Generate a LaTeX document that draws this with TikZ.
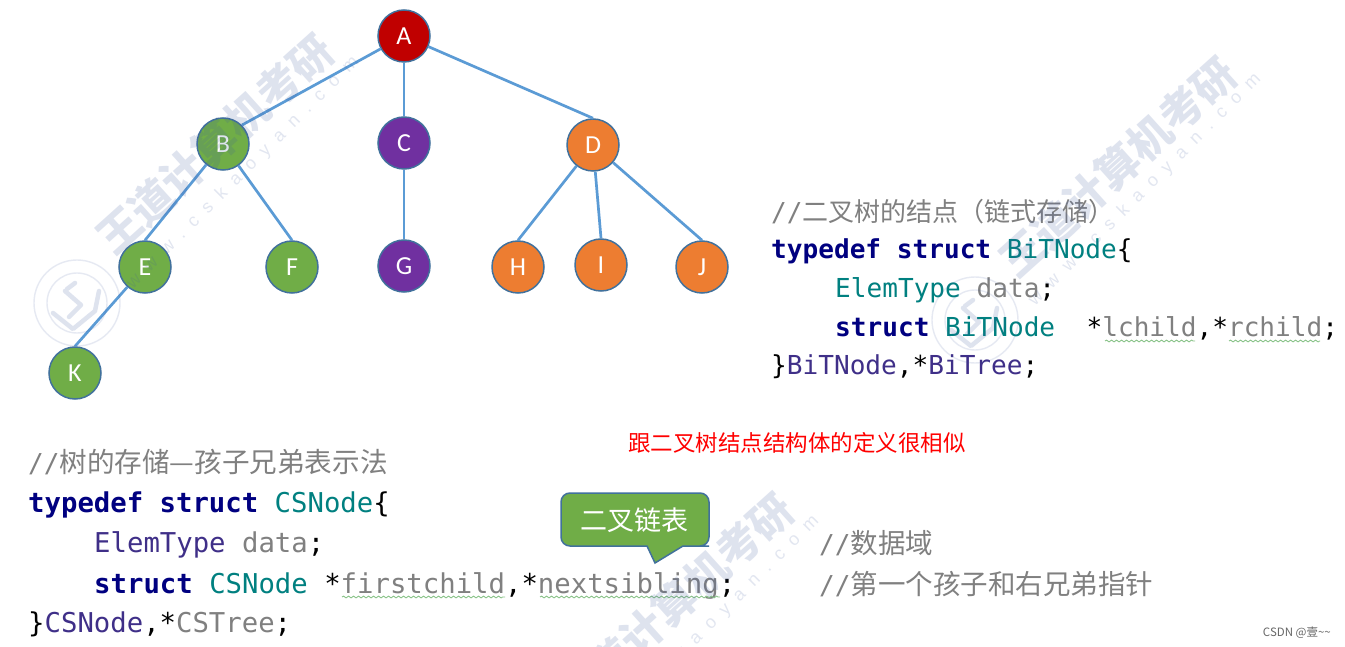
\documentclass[tikz,border=0pt]{standalone}
\usepackage{fontspec}
\setmainfont{Liberation Sans}
\newfontfamily\cjk{Noto Sans CJK SC}
\newfontfamily\code{DejaVu Sans Mono}
\newfontfamily\nodefont{Carlito}
\newfontfamily\sitefont[LetterSpace=60]{Liberation Sans}
\usetikzlibrary{decorations.pathmorphing}
\definecolor{edgeblue}{HTML}{5B9BD5}
\definecolor{bordblue}{HTML}{41719C}
\definecolor{gfill}{HTML}{70AD47}
\definecolor{pfill}{HTML}{7030A0}
\definecolor{ofill}{HTML}{ED7D31}
\definecolor{rfill}{HTML}{C00000}
\definecolor{kw}{HTML}{000080}
\definecolor{ty}{HTML}{008080}
\definecolor{vv}{HTML}{3F2F88}
\definecolor{gy}{HTML}{808080}
\definecolor{wm}{HTML}{3F5AA0}
\definecolor{wavec}{HTML}{8BC48A}
\tikzset{
 treenode/.style={circle,draw=bordblue,line width=1.5pt,minimum size=52pt,inner sep=0pt,text=white,font=\nodefont\fontsize{26pt}{26pt}\selectfont},
 gnode/.style={treenode,fill=gfill},
 pnode/.style={treenode,fill=pfill},
 onode/.style={treenode,fill=ofill},
 rnode/.style={treenode,fill=rfill},
 edge/.style={draw=edgeblue,line width=2.7pt},
 coderight/.style={anchor=west,inner sep=0pt,font=\code\fontsize{26.1pt}{26pt}\selectfont},
 codeleft/.style={anchor=west,inner sep=0pt,font=\code\fontsize{27.3pt}{27pt}\selectfont},
 cjkline/.style={anchor=west,inner sep=0pt,text=gy,font=\cjk\fontsize{#1}{#1}\selectfont},
 wmark/.style={rotate=42,text=wm,text opacity=.17,inner sep=0pt,font=\cjk\bfseries\fontsize{43pt}{43pt}\selectfont},
 wsite/.style={rotate=45,text=wm,text opacity=.15,inner sep=0pt,font=\sitefont\fontsize{18pt}{18pt}\selectfont},
 wring/.style={draw=wm,draw opacity=.13,line width=1.4pt},
 wlogo/.style={draw=wm,draw opacity=.17,line width=4.5pt,line join=round,line cap=round},
 wavy/.style={draw=wavec,line width=.9pt,decorate,decoration={snake,amplitude=.9pt,segment length=5pt}}
}
\newcommand{\kw}[1]{\textcolor{kw}{\bfseries #1}}
\newcommand{\ty}[1]{\textcolor{ty}{#1}}
\newcommand{\vv}[1]{\textcolor{vv}{#1}}
\newcommand{\gy}[1]{\textcolor{gy}{#1}}
\newcommand{\slashes}{{\code\fontsize{26pt}{26pt}\selectfont //}}
\begin{document}
\begin{tikzpicture}[x=1pt,y=-1pt]
\useasboundingbox (0,0) rectangle (1345,647);
\fill[white] (0,0) rectangle (1345,647);
% tree
\node[rnode] (A) at (404,36) {A};
\node[gnode] (B) at (223,144) {B};
\node[pnode] (C) at (404,143) {C};
\node[onode] (D) at (593,145) {D};
\node[gnode] (E) at (145,267) {E};
\node[gnode] (F) at (292,267) {F};
\node[pnode] (G) at (404,266) {G};
\node[onode] (H) at (518,267) {H};
\node[onode] (I) at (601,265) {I};
\node[onode] (J) at (702,267) {J};
\node[gnode] (K) at (75,373) {K};
\draw[edge] (A)--(B.45); \draw[edge] (A)--(C); \draw[edge] (A)--(D.north);
\draw[edge] (B)--(E.north); \draw[edge] (B)--(F.north); \draw[edge] (C)--(G);
\draw[edge] (D)--(H.north); \draw[edge] (D)--(I.north); \draw[edge] (D)--(J.north);
\draw[edge] (E)--(K.north);
% right code
\node[cjkline=26pt] (r1) at (771,212) {\slashes 二叉树的结点（链式存储）};
\node[coderight] (r2) at (771,251.5) {\kw{typedef struct} \ty{BiTNode}\{};
\node[coderight] (r3) at (835,290) {\ty{ElemType} \gy{data};};
\node[coderight] (r4) at (835,328.5) {\kw{struct} \ty{BiTNode}\ \ *\gy{lchild},*\gy{rchild};};
\node[coderight] (r5) at (771,366.5) {\}\vv{BiTNode},*\vv{BiTree};};
\coordinate (u1a) at (1105,341); \coordinate (u1b) at (1195,341);
\coordinate (u2a) at (1229,341); \coordinate (u2b) at (1320,341);
\draw[wavy] (u1a)--(u1b); \draw[wavy] (u2a)--(u2b);
% red note
\node[anchor=center,inner sep=0pt,text=red,font=\cjk\fontsize{22.5pt}{22.5pt}\selectfont] (note) at (797,443) {跟二叉树结点结构体的定义很相似};
% lower code
\node[cjkline=27.6pt] (l1) at (28,462) {\slashes 树的存储—孩子兄弟表示法};
\node[codeleft] (l2) at (28,504.5) {\kw{typedef struct} \ty{CSNode}\{};
\node[codeleft] (l3) at (94,544.5) {\vv{ElemType} \gy{data};};
\node[codeleft] (l4) at (94,585.5) {\kw{struct} \ty{CSNode} *\gy{firstchild},*\gy{nextsibling};};
\node[codeleft] (l5) at (28,624.5) {\}\vv{CSNode},*\gy{CSTree};};
\coordinate (u3a) at (342,597); \coordinate (u3b) at (505,597);
\coordinate (u4a) at (540,597); \coordinate (u4b) at (720,597);
\draw[wavy] (u3a)--(u3b); \draw[wavy] (u4a)--(u4b);
\node[cjkline=27.5pt] (c1) at (819,543) {\slashes 数据域};
\node[cjkline=27.5pt] (c2) at (819,584) {\slashes 第一个孩子和右兄弟指针};
% callout
\draw[fill=gfill,draw=bordblue,line width=1.5pt,rounded corners=9pt] (561,520) -- (561,493) -- (709,493) -- (709,546) -- (700,546) [sharp corners] -- (683,546) -- (655,563) -- (647,546) -- (570,546) [rounded corners=9pt] -- (561,546) -- cycle;
\node[inner sep=0pt,text=white,font=\cjk\fontsize{27pt}{27pt}\selectfont] (call) at (634,520) {二叉链表};
\node[anchor=east,inner sep=0pt,text=gy!80!black,font=\cjk\fontsize{11.5pt}{11.5pt}\selectfont] (csdn) at (1331,633) {CSDN @壹\char"007E\char"007E};
% watermarks
\node[wmark] (w1) at (215,144) {王道计算机考研};
\node[wsite] (s1) at (243,173) {www.cskaoyan.com};
\node[wmark] (w2) at (1118,167) {王道计算机考研};
\node[wsite] (s2) at (1145,190) {www.cskaoyan.com};
\node[wmark] (w3) at (675,603) {王道计算机考研};
\node[wsite] (s3) at (703,632) {www.cskaoyan.com};
\foreach \cx/\cy in {77/303,975/320}{
 \begin{scope}[shift={(\cx,\cy)}]
  \draw[wring] (0,0) circle (43);
  \draw[wring] (0,0) circle (30);
  \draw[wlogo] (-10,-14) -- (-2,-20) (-12,-12) -- (4,2) -- (-8,14);
  \draw[wlogo] (-24,10) -- (-4,26) -- (18,8) -- (22,-12);
 \end{scope}
}
\end{tikzpicture}
\end{document}
